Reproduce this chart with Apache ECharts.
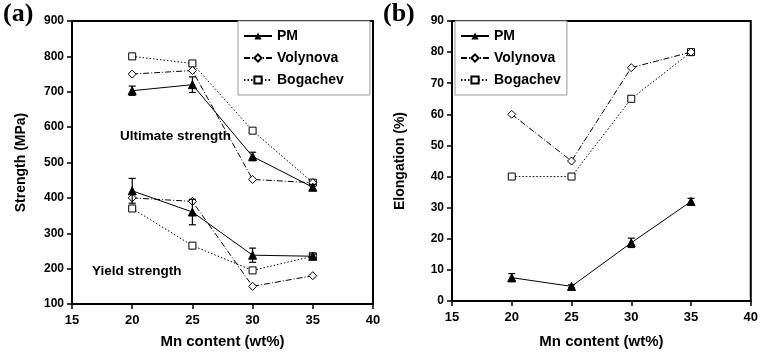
<!DOCTYPE html>
<html><head><meta charset="utf-8">
<script src="https://cdn.jsdelivr.net/npm/echarts@6/dist/echarts.min.js"></script>
<style>html,body{margin:0;padding:0;background:#fff}#c{width:761px;height:354px}</style>
</head><body><div id="c"></div>
<script>
// ---- data ----
const mn = [20, 25, 30, 35];
const xTicks = [15, 20, 25, 30, 35, 40];
const pmUlt = [703, 720, 517, 430];
const pmUltErr = [13, 22, 12, 8];
const volUlt = [750, 760, 452, 443];
const bogUlt = [800, 780, 590, 443];
const pmYield = [420, 360, 238, 235];
const pmYieldErr = [35, 36, 20, 6];
const volYield = [400, 390, 150, 180];
const bogYield = [370, 265, 195, 235];
const pmElong = [7.5, 4.7, 18.7, 32];
const pmElongErr = [1.3, 0.5, 1.5, 1];
const volElong = [60, 45, 75, 80];
const bogElong = [40, 40, 65, 80];

const F = 'Liberation Sans, Arial, sans-serif';
const pair = (ys) => mn.map((x, i) => [x, ys[i]]);
const errData = (ys, es) => mn.map((x, i) => [x, ys[i], es[i]]);

const styles = {
  PM: {symbol: 'triangle', symbolSize: 8, itemStyle: {color: '#000', borderColor: '#000'}, lineStyle: {color: '#000', width: 1, type: 'solid'}, z: 5},
  Volynova: {symbol: 'diamond', symbolSize: 8, itemStyle: {color: '#fff', borderColor: '#000', borderWidth: 1}, lineStyle: {color: '#000', width: 1, type: [6, 2, 1, 2]}, z: 4},
  Bogachev: {symbol: 'rect', symbolSize: 7, itemStyle: {color: '#fff', borderColor: '#000', borderWidth: 1}, lineStyle: {color: '#000', width: 1, type: [1.5, 2]}, z: 3}
};
function line(name, ys, gi) {
  return Object.assign({type: 'line', name: name, data: pair(ys), xAxisIndex: gi, yAxisIndex: gi, showAllSymbol: true, animation: false}, JSON.parse(JSON.stringify(styles[name])));
}
function err(ys, es, gi) {
  return {
    type: 'custom', xAxisIndex: gi, yAxisIndex: gi, data: errData(ys, es), z: 6, animation: false,
    encode: {x: 0, y: 1},
    renderItem: function (params, api) {
      const x = api.value(0), y = api.value(1), e = api.value(2);
      const hi = api.coord([x, y + e]), lo = api.coord([x, y - e]);
      const w = 3.5;
      const st = {stroke: '#000', lineWidth: 1.2};
      return {type: 'group', children: [
        {type: 'line', shape: {x1: hi[0], y1: hi[1], x2: lo[0], y2: lo[1]}, style: st},
        {type: 'line', shape: {x1: hi[0] - w, y1: hi[1], x2: hi[0] + w, y2: hi[1]}, style: st},
        {type: 'line', shape: {x1: lo[0] - w, y1: lo[1], x2: lo[0] + w, y2: lo[1]}, style: st}
      ]};
    }
  };
}
function xAxis(gi, gap) {
  return {type: 'value', gridIndex: gi, min: xTicks[0], max: xTicks[xTicks.length - 1], interval: 5,
    name: 'Mn content (wt%)', nameLocation: 'middle', nameGap: gap,
    nameTextStyle: {fontFamily: F, fontWeight: 'bold', fontSize: 15, color: '#000'},
    axisLine: {onZero: false, lineStyle: {color: '#000', width: 2}},
    axisTick: {show: true, length: 5, lineStyle: {color: '#000', width: 1.5}},
    axisLabel: {fontFamily: F, fontWeight: 'bold', fontSize: 13, color: '#000', margin: 10},
    splitLine: {show: false}};
}
function yAxis(gi, min, max, iv, name, gap) {
  return {type: 'value', gridIndex: gi, min: min, max: max, interval: iv,
    name: name, nameLocation: 'middle', nameGap: gap,
    nameTextStyle: {fontFamily: F, fontWeight: 'bold', fontSize: 14, color: '#000'},
    axisLine: {show: true, onZero: false, lineStyle: {color: '#000', width: 2}},
    axisTick: {show: true, length: 5, lineStyle: {color: '#000', width: 1.5}},
    axisLabel: {fontFamily: F, fontWeight: 'bold', fontSize: 12, color: '#000', margin: 8},
    splitLine: {show: false}};
}
const legendBase = {
  orient: 'vertical', top: 21, itemWidth: 28, itemHeight: 9, itemGap: 8,
  backgroundColor: '#fff', borderColor: '#999', borderWidth: 1, borderRadius: 0,
  textStyle: {fontFamily: F, fontWeight: 'bold', fontSize: 14, color: '#000'},
  data: ['PM', 'Volynova', 'Bogachev'], selectedMode: false
};

const option = {
  backgroundColor: '#fff',
  animation: false,
  grid: [
    {left: 72, right: 388, top: 21, bottom: 47, show: true, borderColor: '#000', borderWidth: 2, backgroundColor: 'transparent'},
    {left: 452, right: 8, top: 21, bottom: 53, show: true, borderColor: '#000', borderWidth: 2, backgroundColor: 'transparent'}
  ],
  xAxis: [xAxis(0, 30), xAxis(1, 33)],
  yAxis: [yAxis(0, 100, 900, 100, 'Strength (MPa)', 44), yAxis(1, 0, 90, 10, 'Elongation (%)', 45)],
  legend: [
    Object.assign({}, legendBase, {left: 238, padding: [8, 26, 8, 5]}),
    Object.assign({}, legendBase, {left: 455, padding: [8, 6, 8, 5]})
  ],
  graphic: [
    {type: 'text', left: 3, top: 1, style: {text: '(a)', font: 'bold 26px "Liberation Serif", serif', fill: '#000'}},
    {type: 'text', left: 383, top: 1, style: {text: '(b)', font: 'bold 26px "Liberation Serif", serif', fill: '#000'}},
    {type: 'text', left: 120, top: 129, style: {text: 'Ultimate strength', font: 'bold 13.5px "Liberation Sans", Arial, sans-serif', fill: '#000'}},
    {type: 'text', left: 92, top: 264, style: {text: 'Yield strength', font: 'bold 13.5px "Liberation Sans", Arial, sans-serif', fill: '#000'}}
  ],
  series: [
    line('PM', pmUlt, 0), line('Volynova', volUlt, 0), line('Bogachev', bogUlt, 0),
    line('PM', pmYield, 0), line('Volynova', volYield, 0), line('Bogachev', bogYield, 0),
    err(pmUlt, pmUltErr, 0), err(pmYield, pmYieldErr, 0),
    line('PM', pmElong, 1), line('Volynova', volElong, 1), line('Bogachev', bogElong, 1),
    err(pmElong, pmElongErr, 1)
  ]
};
const chart = echarts.init(document.getElementById('c'), null, {renderer: 'canvas'});
chart.setOption(option);
</script></body></html>
